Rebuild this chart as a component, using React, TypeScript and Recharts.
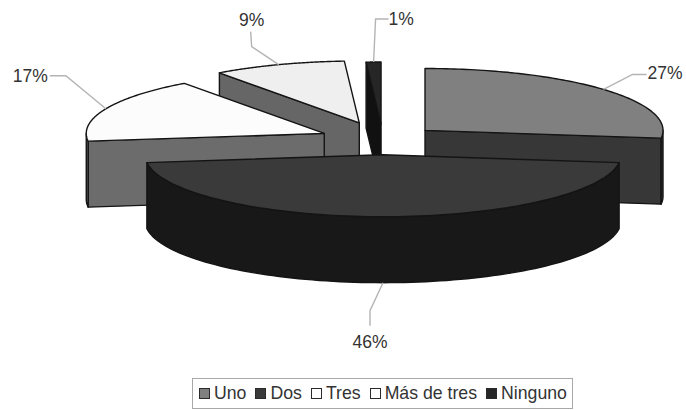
import { PieChart, Pie, Legend } from 'recharts';

const categories = ['Uno', 'Dos', 'Tres', 'Más de tres', 'Ninguno'];
const values = [27, 46, 17, 9, 1];

const topColors = ['#808080', '#3a3a3a', '#fcfcfc', '#efefef', '#262626'];
const sideColors = ['#373737', '#181818', '#6c6c6c', '#666666', '#111111'];
const swatchColors = ['#808080', '#3a3a3a', '#ffffff', '#ffffff', '#262626'];

// each slice is pulled out by its own distance
const explode = [56, 57, 64, 70, 62];

// painted back to front, the big slice has to end up on top
const drawOrder = [0, 4, 3, 2, 1];

// leader line bends and text offset, relative to the point on the rim
const leaders = [
    { bend: [29, -15], end: [43, -15], text: [44, -10], anchor: 'start' },
    { bend: [-13, 28], end: [-13, 43], text: [-13, 65], anchor: 'middle' },
    { bend: [-40, -33], end: [-56, -33], text: [-58, -27], anchor: 'end' },
    { bend: [-27, -18], end: [-28, -33], text: [-27, -39], anchor: 'middle' },
    { bend: [2, -43], end: [15, -43], text: [15, -37], anchor: 'start' },
];

const SQUASH = 0.26;
const DEPTH = 66;
const FONT = '"Liberation Sans", Arial, sans-serif';

const pieData = drawOrder.map(i => ({ name: categories[i], value: values[i], idx: i }));

const rad = (a: number) => (a * Math.PI) / 180;

// recharts angles run from 3 o'clock, here they are measured clockwise from the top
function apex(props: any, extra = 0) {
    const idx = props.payload?.idx ?? props.idx;
    const mid = rad(90 - props.midAngle);
    return [
        props.cx + explode[idx] * Math.sin(mid),
        props.cy - explode[idx] * Math.cos(mid) * SQUASH + extra,
    ];
}

function rimPoint(props: any, deg: number, extra = 0) {
    const [ax, ay] = apex(props, extra);
    const t = rad(90 - deg);
    return [ax + props.outerRadius * Math.sin(t), ay - props.outerRadius * SQUASH * Math.cos(t)];
}

function Slice3D(props: any) {
    const idx = props.payload?.idx ?? props.idx;
    const { startAngle, endAngle } = props;
    const steps = 96;
    const top: number[][] = [];
    const front: number[][] = [];
    const frontBottom: number[][] = [];
    for (let s = 0; s <= steps; s++) {
        const a = startAngle + ((endAngle - startAngle) * s) / steps;
        top.push(rimPoint(props, a));
        // only the part of the rim facing the viewer gets an outer wall
        if (Math.cos(rad(90 - a)) < 0) {
            front.push(rimPoint(props, a));
            frontBottom.push(rimPoint(props, a, DEPTH));
        }
    }
    const p = (pts: number[][]) => pts.map(q => q.join(',')).join(' ');
    const A = apex(props);
    const B = apex(props, DEPTH);
    const stroke = { stroke: '#141414', strokeWidth: 1.4, strokeLinejoin: 'round' as const };
    const showFirst = Math.sin(rad(90 - startAngle)) > 0;
    const showLast = Math.sin(rad(90 - endAngle)) < 0;
    const first = rimPoint(props, startAngle, DEPTH);
    const last = rimPoint(props, endAngle, DEPTH);
    return (
        <g>
            {showFirst && <polygon points={p([A, top[0], first, B])} fill={sideColors[idx]} {...stroke} />}
            {showLast && <polygon points={p([A, top[steps], last, B])} fill={sideColors[idx]} {...stroke} />}
            {front.length > 1 && (
                <polygon points={p([...front, ...frontBottom.slice().reverse()])} fill={sideColors[idx]} {...stroke} />
            )}
            <polygon points={p([A, ...top])} fill={topColors[idx]} {...stroke} />
        </g>
    );
}

function SliceLabel(props: any) {
    const idx = props.payload?.idx ?? props.idx;
    const l = leaders[idx];
    const [x, y] = rimPoint(props, props.midAngle, idx === 1 ? DEPTH : 0);
    return (
        <g>
            <polyline
                points={`${x},${y} ${x + l.bend[0]},${y + l.bend[1]} ${x + l.end[0]},${y + l.end[1]}`}
                fill="none"
                stroke="#b4b4b4"
                strokeWidth={1.4}
            />
            <text
                x={x + l.text[0]}
                y={y + l.text[1]}
                textAnchor={l.anchor as any}
                fontFamily={FONT}
                fontSize={17.5}
                fill="#333333"
            >
                {Math.round(props.percent * 100)}%
            </text>
        </g>
    );
}

function BoxLegend() {
    return (
        <div
            style={{
                display: 'flex',
                alignItems: 'center',
                height: 31,
                boxSizing: 'border-box',
                width: 381,
                border: '1px solid #a8a8a8',
                paddingLeft: 6,
                fontFamily: FONT,
                fontSize: 17.7,
                color: '#333333',
                whiteSpace: 'nowrap',
            }}
        >
            {categories.map((c, i) => (
                <span key={c} style={{ display: 'flex', alignItems: 'center', marginRight: 9 }}>
                    <span
                        style={{
                            width: 9,
                            height: 9,
                            border: '1.5px solid #2a2a2a',
                            background: swatchColors[i],
                            marginRight: 4,
                            display: 'inline-block',
                        }}
                    />
                    {c}
                </span>
            ))}
        </div>
    );
}

export default function App() {
    return (
        <div style={{ position: 'absolute', left: 0, top: 0, width: 686, height: 410, background: '#fff' }}>
            <PieChart width={686} height={410} margin={{ top: 0, right: 0, bottom: 0, left: 0 }}>
                <Pie
                    data={pieData}
                    dataKey="value"
                    nameKey="name"
                    cx={383}
                    cy={140}
                    outerRadius={238}
                    startAngle={-7.2}
                    endAngle={352.8}
                    stroke="none"
                    shape={Slice3D}
                    label={SliceLabel}
                    labelLine={false}
                    isAnimationActive={false}
                />
                <Legend
                    content={<BoxLegend />}
                    wrapperStyle={{ left: 192, top: 378, width: 381, bottom: 'auto' }}
                />
            </PieChart>
        </div>
    );
}
